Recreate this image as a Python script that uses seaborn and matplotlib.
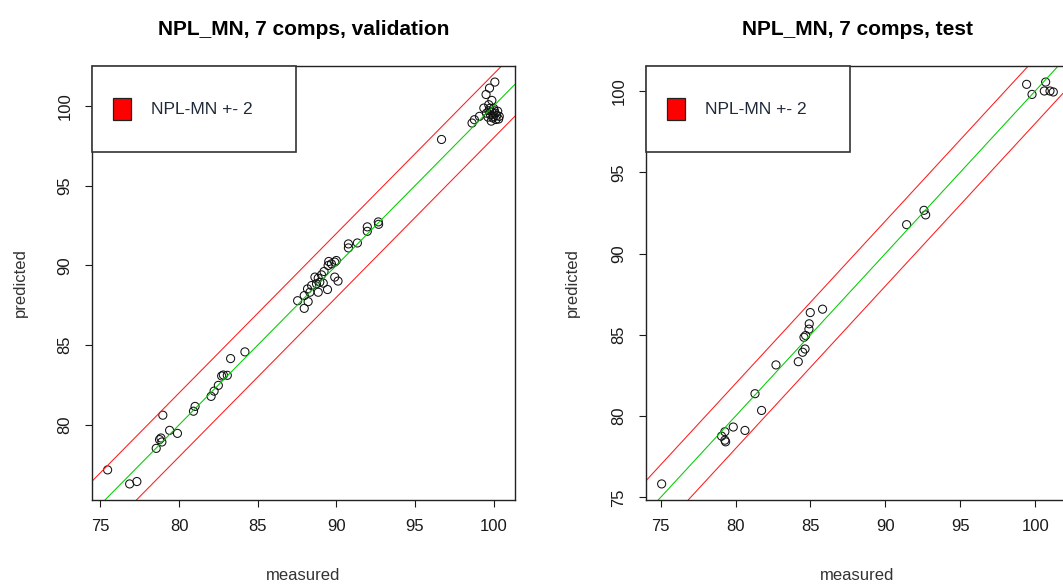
import numpy as np
import pandas as pd
import matplotlib
matplotlib.use('Agg')
import matplotlib.pyplot as plt
import seaborn as sns
from matplotlib.patches import Rectangle
from matplotlib.ticker import MultipleLocator

# values
val_measured = [75.46, 76.86, 77.32, 78.55, 78.76, 78.85, 78.91, 78.97, 79.40, 79.90,
                80.92, 81.02, 82.04, 82.23, 82.50, 82.71, 82.82, 83.07, 83.28, 84.19,
                87.54, 87.96, 88.21, 87.96, 88.17, 88.32, 88.43, 88.64, 88.74, 88.85,
                88.85, 88.95, 89.06, 89.17, 89.22, 89.44, 89.48, 89.52, 89.69, 89.90,
                90.00, 89.90, 90.11, 90.77, 90.77, 91.34, 91.97, 91.97, 92.67, 92.69,
                96.69, 98.63, 98.78, 99.10, 99.38, 100.08, 99.74, 99.52, 99.89, 99.69,
                99.55, 99.70, 99.80, 99.90, 100.00, 100.10, 100.20, 100.32, 99.85, 99.95,
                100.05, 100.26, 100.36, 99.65, 100.15, 99.75, 100.00]
val_predicted = [77.18, 76.30, 76.45, 78.53, 79.08, 79.18, 78.93, 80.61, 79.66, 79.47,
                 80.86, 81.16, 81.79, 82.12, 82.48, 83.07, 83.13, 83.11, 84.16, 84.58,
                 87.79, 88.11, 87.73, 87.31, 88.53, 88.32, 88.74, 89.27, 88.85, 89.20,
                 88.32, 88.95, 89.41, 88.89, 89.62, 88.49, 90.00, 90.25, 90.10, 90.21,
                 90.31, 89.27, 89.02, 91.35, 91.10, 91.41, 92.42, 92.14, 92.73, 92.58,
                 97.90, 98.93, 99.14, 99.35, 99.87, 101.50, 101.12, 100.72, 100.35, 100.08,
                 99.55, 99.70, 99.45, 99.60, 99.35, 99.55, 99.40, 99.18, 99.05, 99.25,
                 99.70, 99.67, 99.35, 99.30, 99.15, 99.85, 99.85]

test_measured = [75.07, 79.07, 79.29, 79.29, 79.34, 79.85, 80.63, 81.30, 81.74, 82.70,
                 84.19, 84.48, 84.64, 84.57, 84.68, 84.90, 84.92, 84.99, 85.81, 91.42,
                 92.58, 92.69, 99.43, 99.79, 100.70, 100.61, 100.99, 101.21]
test_predicted = [75.83, 78.77, 79.04, 78.52, 78.42, 79.33, 79.12, 81.38, 80.35, 83.15,
                  83.35, 83.93, 84.13, 84.85, 84.96, 85.35, 85.68, 86.37, 86.58, 91.78,
                  92.66, 92.38, 100.41, 99.79, 100.55, 100.00, 100.00, 99.94]

band = 2
titles = ['NPL_MN, 7 comps, validation', 'NPL_MN, 7 comps, test']
legend_label = 'NPL-MN +- 2'

sns.set_theme(style='white')
plt.rcParams['font.family'] = ['Liberation Sans', 'DejaVu Sans']

fig = plt.figure(figsize=(10.63, 5.85), dpi=100)
ax1 = fig.add_axes([0.0865, 0.1453, 0.3979, 0.7419])
ax2 = fig.add_axes([0.6077, 0.1453, 0.3979, 0.7419])

panels = [
    (ax1, val_measured, val_predicted, titles[0], -0.170),
    (ax2, test_measured, test_predicted, titles[1], -0.174),
]

for ax, meas, pred, title, ylab_x in panels:
    df = pd.DataFrame({'measured': meas, 'predicted': pred})
    sns.scatterplot(data=df, x='measured', y='predicted', ax=ax, marker='o',
                    s=34, facecolor='none', edgecolor='#111111', linewidth=0.75)
    ax.margins(0.04)

    # ideal line and the +-2 band
    ax.axline((80, 80), slope=1, color='#00cc00', lw=0.75)
    ax.axline((80, 80 + band), slope=1, color='#ff1a1a', lw=0.75)
    ax.axline((80, 80 - band), slope=1, color='#ff1a1a', lw=0.75)

    ax.xaxis.set_major_locator(MultipleLocator(5))
    ax.yaxis.set_major_locator(MultipleLocator(5))
    ax.tick_params(axis='both', direction='out', length=5, width=0.8,
                   labelsize=12, pad=9, colors='#1a1a1a', bottom=True, left=True)
    ax.tick_params(axis='y', labelrotation=90)
    for lab in ax.get_yticklabels():
        lab.set_va('center')

    for sp in ax.spines.values():
        sp.set_color('#222222')
        sp.set_linewidth(1.0)

    ax.set_title(title, fontsize=15, fontweight='bold', pad=22, color='black')
    ax.set_xlabel('measured', fontsize=12, color='#333333')
    ax.set_ylabel('predicted', fontsize=12, color='#333333')
    ax.xaxis.set_label_coords(0.5, -0.173)
    ax.xaxis.label.set_va('center')
    ax.yaxis.set_label_coords(ylab_x, 0.5)
    ax.yaxis.label.set_va('center')

    # legend box in the R style
    ax.add_patch(Rectangle((0, 0.802), 0.482, 0.198, transform=ax.transAxes,
                           facecolor='white', edgecolor='#333333', lw=1.2,
                           zorder=5, clip_on=False))
    ax.add_patch(Rectangle((0.049, 0.876), 0.043, 0.050, transform=ax.transAxes,
                           facecolor='red', edgecolor='#222222', lw=0.9, zorder=6))
    ax.text(0.139, 0.899, legend_label, transform=ax.transAxes, fontsize=12.5,
            va='center', ha='left', color='#1f2a3a', zorder=7)

fig.savefig('out.png', dpi=100)
